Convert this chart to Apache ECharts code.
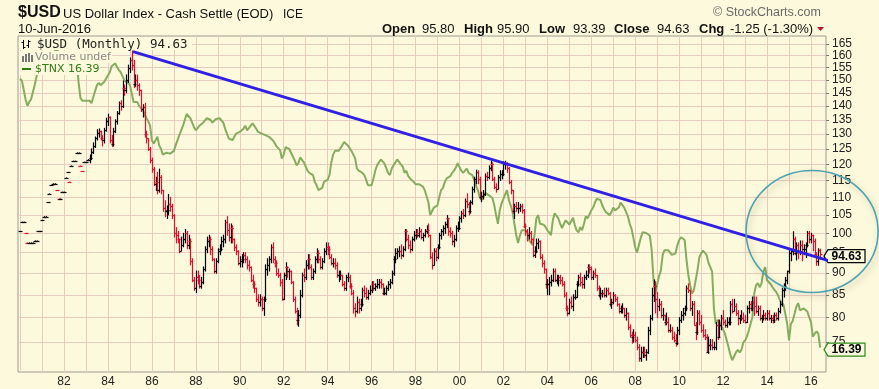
<!DOCTYPE html>
<html><head><meta charset="utf-8">
<script src="https://cdn.jsdelivr.net/npm/echarts@6/dist/echarts.min.js"></script>
<style>html,body{margin:0;padding:0;background:#fdf9dc;}#c{width:879px;height:389px;}</style>
</head><body><div id="c"></div>
<script>
// ---- data: monthly, Jan 1980 .. Jun 2016 ----
const startYear = 1980;
const usdOpen = [
100.5,103,103,100,97.5,97.5,97.5,97.5,98,98,100.5,100.5,
103.5,104.5,104.5,108.5,111,113.5,114,114,112,109.5,109.5,111.5,
111.5,115.8,117.5,114.5,119.5,121,121,123.7,123.7,119.5,117.8,120.7,
120.7,121.5,121.5,122,124,126,128.5,130.5,131,128.5,128,131.5,
134.5,136,128,126.5,131,134.5,137.5,141,140,147,146,150,
155,158,156,148.5,150,148,146,139,139.5,130,128.5,125,
121.5,118.5,114,114.5,112,116,112,107,106,106.5,108,107.5,
105,100,99.5,98.5,95.5,97,98.5,100,97,98,93,88.5,
86.5,89,88.5,87,88,91,96,98,98.5,96,93.5,90.5,
93,95.5,96,98,98.5,103,101,99,101.5,98.5,96.5,95.5,
92.5,93,93.5,94.5,93.5,92,91.5,88.5,87.5,86.5,84,83.5,
84,82,84,91,92,93.5,96.5,93.5,92.5,90,89.5,88,
84,89.5,91.5,90.5,90.5,88,84,81.5,79.5,80.5,85,89.5,
89,92,93.5,91.5,89,90.5,93.5,95,93.5,91.5,93,95.5,
96.5,96,94,92.5,92.5,92,89.5,89.5,89.5,87.5,86.5,89,
89,87,85.5,82,81.5,83.5,82,83,86,85.5,84.5,85.5,
86,87.5,86.5,87,87.5,88,87.5,85.5,85.5,86.5,87.5,88,
90,93.5,95,95.5,95.5,94.5,96,100.5,98.5,97,96,98.5,
99.5,100,99.5,100.5,99,99.5,100.5,101,99.5,94,92,95.5,
94,96.5,99.5,100.5,101.5,102.5,104,100.5,100,98,98.5,101.5,
101.5,104,105.5,105,109,108,106,108.5,112.5,115.5,117.5,115.5,
110,110.5,111,116.5,116,119,120,115.5,113,112.5,116,117,
117,120,120,119,114.5,112,106,107.5,107,107,107.5,106.5,
102,100.5,99.5,100,98.5,94.5,95.5,97.5,98,94,92.5,91,
87.5,87.5,88,88.5,90.5,88.5,88.5,89,88.5,87.5,85,82,
81,83.5,82.5,84.5,84.5,87.5,89,88,87.5,89,89.5,91.5,
91,89,90,89.5,86.5,85,85.5,85.5,85,86,85.5,83,
83.5,85,84,83,81.5,82,82,80.5,81,78,76.5,76,
76.5,75.5,74,72,73,73,72.5,73,77.5,80,85,87,
84,82.5,83,80.5,80.5,79,79,77.5,77.5,76,75.5,74.8,
77.5,79.5,80.5,81,82,86.5,86,82,83,78.5,77,81,
79,77.5,76.5,76,73,74.5,74.5,74,74,78.5,76,78.5,
80,79,78.5,79,79,83,81.5,82.5,81,80,80,80,
79.5,79,82,83,82,83.5,82.5,81.5,82,80,80,80.5,
80,81,80,80,79.5,80.5,80,81.5,83,86,87,88.5,
90.5,95,95.5,98.5,95,97,95.5,97,96,96,97,100,
98.5,99.5,98,94.6,93,95.8];
const usdHigh = [
100.5,103,103,100,97.5,97.5,97.5,97.5,98,98,100.5,100.5,
103.5,104.5,104.5,108.5,111,113.5,114,114,112,109.5,109.5,111.5,
111.5,115.8,117.5,114.5,119.5,121,121,123.7,123.7,119.5,117.8,120.7,
120.7,121.5,123,125,127,129,131.5,131.8,131,129.5,132,135.6,
137,136,129.5,132,135,138,141.5,142,149.6,148,152,156,
159,162,158,152,152,148.5,146,140.5,141,131,128.5,125.5,
122,119,116,117.5,118.5,116.5,112,109,107.5,110.8,110,108,
105,101.5,100.5,98.5,99,100,101,100.5,99.5,98.5,93.5,89,
90.5,90.5,89.5,89,91.5,96.5,99,99.5,99,96.5,93.5,93.5,
96,97,99,99.5,103.5,104.5,102.5,102.5,102,98.5,97,95.5,
94,94.5,95,95,94,93,91.5,89.5,88,86.5,85,85,
84.5,84.5,92,93.5,94,97,97.5,94,93,91,90,88.5,
90,92.5,91.5,91,90.5,88,84.5,82,81.5,86,90,91,
93,94.5,94.5,92,91,94,96,95.5,94,93.5,96,97.5,
97.5,96.5,94.5,93.5,93.5,92.5,90.5,90.5,89.5,88,89.5,90,
89.5,87.5,86,83,84.5,84,84,86.5,87,86.5,86,87,
88,88,87.5,88.5,88.5,88.5,87.5,86.5,87,88,88.5,90.5,
94,96,96,96.5,97,96.5,101,101,99.5,98,99,100.5,
101,101,101.5,101,100,101,102,102.5,99.5,95,96,96,
97,100,101,102,103,104.8,104,101.5,100.5,99.5,102,103,
104.5,106,106.5,109.5,111,108.5,109,113,116,118.2,118,116,
111.5,112,117,117.5,119.5,121,120.5,116,114,116.5,118,118,
120.8,121,120.5,119,115,112,108,108.5,108.5,108,108,106.5,
102.5,101,101.5,100.5,98.5,96.5,98.5,98.5,98,94.5,93,91,
88.5,89,89.5,91,91,89.5,89.5,89.5,89,88,85.5,82.5,
84,84.5,85,86,88,89.5,90,89,89.5,90.5,92,92,
91.5,90.5,91,89.5,87,86.5,86,86.5,86.5,86.5,85.5,84,
85.5,85,84.5,83,82.5,83,82,82,81,78.5,77,77.5,
77,76,74.5,74,74,74,73.5,78,80.5,86.5,88.4,88,
85.5,84,83.5,82,80.5,81,80,78.5,78,77,76.5,78,
80,81.3,82,82.5,87,87.5,86,83.5,83.5,79,81.5,81.5,
80.5,78.5,77.5,76.5,76,75.5,75.5,75,79,79.5,79.5,80.5,
81.5,79.5,80,80,83.5,84,84,83,81.5,80.5,81.5,81,
80.5,82.5,83.5,83.5,84.5,84.5,84.5,82.5,82.5,80.5,81.5,81,
81.5,81.5,80.5,80.5,81,81,82,83.5,86.5,87.5,89,90.5,
95.5,95.5,100.4,99,97.5,97.5,98,98,97,97.5,100.5,100.5,
100,99.5,98.5,95,96,95.9];
const usdLow = [
100.5,103,103,100,97.5,97.5,97.5,97.5,98,98,100.5,100.5,
103.5,104.5,104.5,108.5,111,113.5,114,114,112,109.5,109.5,111.5,
111.5,115.8,117.5,114.5,119.5,121,121,123.7,123.7,119.5,117.8,120.7,
120.7,121.5,120.5,121.5,123.5,125.5,128,129,128,126,127,131,
133,127,125.8,126,130.5,133.5,137,138.5,139.5,144,145,149,
153,154,147,147.5,146,144,138,136,129,127,124.5,120.5,
117.5,113.5,112,111,111.5,111,106,104.5,104,105,106,104,
99,97.5,97.5,95,95.5,96.5,97.5,96,96,92,88,86,
85.5,87.5,86.5,86.5,87.5,90.5,95,96.5,94.5,93,90,90,
92.5,94.5,95.5,96.5,97.5,99.5,98,97.5,97.5,95.5,94.5,92,
91.5,91.5,92.5,92.5,91,90.5,88,86.5,85.5,83.5,82.5,82.5,
81.5,80.5,83.5,89.5,90.5,92.5,92.5,91.5,89.5,89,87,83.8,
84,88.5,89,88.5,87.5,83.5,81,78.5,78.2,80,84.5,88,
88.5,91,91,88.5,88.5,90,92.5,92.5,91,91,92.5,94.5,
94.5,93.5,92,91.5,91,89,88,88.5,87,86,86,88,
86.5,85,81,80.2,81,81,81.5,82.5,84.5,84,84,85,
85.5,86,86,86.5,86.5,86.5,85,85,85,86,86.5,87.5,
89.5,92.5,93.5,94,93.5,94,95.5,98,96,95,95.5,98,
98.5,99,99,98.5,98,99,100,99,93.5,91,92,93,
93.5,96,98.5,99.5,100,101.5,99.5,99,97,96.5,98,100.5,
101,103,104,104.5,107,105,105.5,108,111.5,114,114,109.5,
108.7,109.5,110.5,115,115.5,118,115,112.5,111.5,112.5,115,115.5,
116.5,118.5,117.5,114,111,105.5,104,106,105.5,106,105.5,101.5,
99.5,98,98.5,97.5,94,93.8,95,96,93.5,91.5,90,86.5,
85,85,87,88,88,87.5,87,87.5,87,84.5,81.5,80.4,
80.8,82,81.5,84,84.5,87,87,86.5,86.5,88.5,89,90,
88.5,88.5,89,86,84.5,84,84.5,84.5,84.5,85,82.5,82,
83,83.5,82.5,81,81,81,80,79.5,77.5,76,74.8,75,
75,73.5,71.3,71.3,72,72,71.5,72.8,76.5,79.5,83.5,81,
80,81.5,80,79.5,78.5,78.5,77,77,75.5,75,74.2,74.5,
76.5,79,79.5,80.5,81.5,85.5,81.5,80.5,78.5,75.5,76.5,78.5,
77,76,75.5,73,72.8,73.5,73.5,73.5,73.5,75.5,76,77.5,
78.5,78,78,78.5,78.5,81,81.5,80.5,78.5,78.8,79.5,79,
78.9,79,81,81.5,81.5,80.5,81,80.5,79.5,79,79.5,79.5,
79.5,79.5,79,78.9,79,79.5,79.5,81,82.5,84.5,86,87.5,
90,93,94.5,94.5,93.2,93.5,94.5,93,94.5,93.8,96.5,97.5,
97.5,95.5,94.5,91.9,91.9,93.39];
const usdClose = [
100.5,103,103,100,97.5,97.5,97.5,97.5,98,98,100.5,100.5,
103.5,104.5,104.5,108.5,111,113.5,114,114,112,109.5,109.5,111.5,
111.5,115.8,117.5,114.5,119.5,121,121,123.7,123.7,119.5,117.8,120.7,
120.7,121.5,122,124,126,128.5,130.5,131,128.5,128,131.5,134.5,
136,128,126.5,131,134.5,137.5,141,140,147,146,150,155,
158,156,148.5,150,148,146,139,139.5,130,128.5,125,121.5,
118.5,114,114.5,112,116,112,107,106,106.5,108,107.5,105,
100,99.5,98.5,95.5,97,98.5,100,97,98,93,88.5,86.5,
89,88.5,87,88,91,96,98,98.5,96,93.5,90.5,93,
95.5,96,98,98.5,103,101,99,101.5,98.5,96.5,95.5,92.5,
93,93.5,94.5,93.5,92,91.5,88.5,87.5,86.5,84,83.5,84,
82,84,91,92,93.5,96.5,93.5,92.5,90,89.5,88,84,
89.5,91.5,90.5,90.5,88,84,81.5,79.5,80.5,85,89.5,89,
92,93.5,91.5,89,90.5,93.5,95,93.5,91.5,93,95.5,96.5,
96,94,92.5,92.5,92,89.5,89.5,89.5,87.5,86.5,89,89,
87,85.5,82,81.5,83.5,82,83,86,85.5,84.5,85.5,86,
87.5,86.5,87,87.5,88,87.5,85.5,85.5,86.5,87.5,88,90,
93.5,95,95.5,95.5,94.5,96,100.5,98.5,97,96,98.5,99.5,
100,99.5,100.5,99,99.5,100.5,101,99.5,94,92,95.5,94,
96.5,99.5,100.5,101.5,102.5,104,100.5,100,98,98.5,101.5,101.5,
104,105.5,105,109,108,106,108.5,112.5,115.5,117.5,115.5,110,
110.5,111,116.5,116,119,120,115.5,113,112.5,116,117,117,
120,120,119,114.5,112,106,107.5,107,107,107.5,106.5,102,
100.5,99.5,100,98.5,94.5,95.5,97.5,98,94,92.5,91,87.5,
87.5,88,88.5,90.5,88.5,88.5,89,88.5,87.5,85,82,81,
83.5,82.5,84.5,84.5,87.5,89,88,87.5,89,89.5,91.5,91,
89,90,89.5,86.5,85,85.5,85.5,85,86,85.5,83,83.5,
85,84,83,81.5,82,82,80.5,81,78,76.5,76,76.5,
75.5,74,72,73,73,72.5,73,77.5,80,85,87,84,
82.5,83,80.5,80.5,79,79,77.5,77.5,76,75.5,74.8,77.5,
79.5,80.5,81,82,86.5,86,82,83,78.5,77,81,79,
77.5,76.5,76,73,74.5,74.5,74,74,78.5,76,78.5,80,
79,78.5,79,79,83,81.5,82.5,81,80,80,80,79.5,
79,82,83,82,83.5,82.5,81.5,82,80,80,80.5,80,
81,80,80,79.5,80.5,80,81.5,83,86,87,88.5,90.5,
95,95.5,98.5,95,97,95.5,97,96,96,97,100,98.5,
99.5,98,94.6,93,95.8,94.63];
// $TNX (10-year yield x10), monthly close
const tnx = [
124,122,114,106,101,104,106,112,118,126,135,145,
130,132,134,140,138,138,145,152,156,150,135,140,
144,140,138,139,138,146,146,140,120,107,105,104,
105,104,105,103,108,113,118,120,118,119,121,124,
125,130,136,138,139,135,132,130,126,122,121,120,
118,118,104,104,104,101,100,98,95,92,90,87,
78,76,78,80,75,73,70,70.5,71,71,70.5,70,
72,75,78,81,84,87,91,95,95,92,89,86,
84,83,87,88,89,90,92,92,91,89,90,91.5,
92,92,93,89,85,82,79,79,78,80,82,82.5,
83,84,85,87,84,85,87,88.5,88.5,85,83,82.5,
82,81.5,81,81,80,79,78,76.5,74.5,73.5,72.4,68,
70,74,74,73,71,69,67,64.6,65.6,68.5,68,66,
64,62,61,60.5,60,57,55.5,53.6,53,54.5,57,57,
58,60,66,70,72,71,72,72,75,77,78,75,
74,72,70,68,63,62,62,61,60,58,55.6,54.8,
55.6,58.5,62,64.6,66,67.5,67,65.5,64.6,61,60,63,
64.6,66,67.5,67,65,64,61,62,59.5,58.5,58,57,
56,55.6,56,55.5,55,53.6,53,49,44.4,45,47,47,
47.8,51,53.6,54.5,57,58.5,58.5,59.5,61,62,63.5,65.6,
65.6,62,61,62,63,61,60.5,60,58,55.6,53.6,51,
49.7,50.5,52.5,52.5,51.6,51,50.5,47.8,44.4,41.6,46,48.5,
50.2,52,53.6,49.7,47.8,45.4,41.6,38.2,36,38,39.6,40,
39.6,39,36.8,36.8,35.4,38.2,43.3,44.4,41.6,41.6,41.3,40.6,
39.6,39,38.2,42.7,45,45,43.3,41.6,40.3,40.6,42.7,42,
41.3,41.6,43.5,41.2,39.6,39,40.6,39.6,41.6,44,43.3,42.7,
46,47,48.8,50.2,50,49.7,47.8,46.4,45.4,45,44.4,45.4,
47,46,46,47,48.8,49.2,47,45.4,44,41.6,40,37.4,
34.8,33.5,35.4,37.4,39,39,38.8,38.5,38,34.1,27.2,24.6,
26.4,28,29.3,32.9,34.1,34.6,34.1,33.5,32.9,32.9,33.3,35.4,
36.8,37.6,37.6,36.8,31.7,28.3,26.2,24.6,25.2,27.2,29.3,32.3,
33.3,34,33.5,32.9,31,30,29,21.9,19.6,20.2,19.8,19.3,
19.3,18.2,17.3,16.4,15.5,14.9,14.7,15.8,16.1,15.8,16.1,17,
17.3,17.8,18.6,19.6,20.6,24.6,26.2,26.6,25.8,26.6,29,30,
27.2,26.8,26.4,25.8,25.3,24.9,24.3,23.4,23.4,22.6,21.1,19.6,
17.3,19.6,20,21.1,22.3,22.9,21.7,21.5,22,21.7,21.5,20.6,
19.9,17.8,18.2,18.5,18.2,16.39];
// trendline anchors [decimal year, value]
const trendStart = [1985.14, 161.7];
const trendEnd = [2018.82, 89.8];
// axis ticks
const priceTicks = [75,80,85,90,95,100,105,110,115,120,125,130,135,140,145,150,155,160,165];
const yearGrid = [1980,1981,1982,1983,1984,1985,1986,1987,1988,1989,1990,1991,1992,1993,1994,1995,1996,1997,1998,1999,2000,2001,2002,2003,2004,2005,2006,2007,2008,2009,2010,2011,2012,2013,2014,2015,2016];
const yearLabels = [1982,1984,1986,1988,1990,1992,1994,1996,1998,2000,2002,2004,2006,2008,2010,2012,2014,2016];
const lastClose = 94.63, lastTnx = 16.39;

// ---- build ----
const BG = '#fdf9dc', GRIDC = '#e6cdbf', RED = '#e0102e';
const monthT = i => startYear + i / 12;
const ohlc = usdClose.map((c, i) => [monthT(i), usdOpen[i], usdHigh[i], usdLow[i], c, (i === 0 || c >= usdClose[i - 1]) ? 1 : 0]);
const tnxData = tnx.map((v, i) => [monthT(i), v]);

const chart = echarts.init(document.getElementById('c'), null, {renderer: 'canvas'});
const font = 'Liberation Sans, Arial, sans-serif';
chart.setOption({
  animation: false,
  backgroundColor: BG,
  grid: {left: 18, top: 36, width: 808, height: 336, show: true, borderColor: '#a09a90', borderWidth: 1},
  xAxis: {
    type: 'value', min: 1979.906, max: 2016.683,
    axisLine: {show: false},
    axisTick: {show: false, customValues: yearGrid},
    splitLine: {show: true, lineStyle: {color: GRIDC, width: 1}},
    axisLabel: {customValues: yearLabels, formatter: v => String(v % 100).padStart(2, '0'),
      fontSize: 12, fontFamily: font, color: '#222', margin: 4, showMinLabel: true, showMaxLabel: true}
  },
  yAxis: [{
    type: 'log', logBase: 10, min: 69.3, max: 168.5, position: 'right',
    axisLine: {show: false},
    axisTick: {show: true, length: 3, customValues: priceTicks, lineStyle: {color: '#777'}},
    splitLine: {show: true, lineStyle: {color: GRIDC, width: 1}},
    axisLabel: {show: false}
  }, {
    type: 'log', logBase: 10, min: 13.64, max: 170.8, show: false,
    splitLine: {show: false}
  }],
  series: [{
    type: 'line', name: 'TNX', yAxisIndex: 1, data: tnxData, symbol: 'none', z: 1,
    lineStyle: {color: '#86ad5f', width: 2}
  }, {
    type: 'custom', name: 'USD', yAxisIndex: 0, z: 2, clip: true,
    data: ohlc,
    encode: {x: 0, y: [1, 2, 3, 4]},
    renderItem: (params, api) => {
      const t = api.value(0);
      const pO = api.coord([t, api.value(1)]), pH = api.coord([t, api.value(2)]);
      const pL = api.coord([t, api.value(3)]), pC = api.coord([t, api.value(4)]);
      const color = api.value(5) ? '#000' : RED;
      const x = Math.round(pH[0]) + 0.5;
      const st = {stroke: color, lineWidth: 1.2};
      return {type: 'group', children: [
        {type: 'line', shape: {x1: x, y1: pH[1] - 0.5, x2: x, y2: pL[1] + 0.5}, style: st},
        {type: 'line', shape: {x1: x - 2, y1: Math.round(pO[1]) + 0.5, x2: x, y2: Math.round(pO[1]) + 0.5}, style: st},
        {type: 'line', shape: {x1: x, y1: Math.round(pC[1]) + 0.5, x2: x + 2, y2: Math.round(pC[1]) + 0.5}, style: st}
      ]};
    }
  }, {
    type: 'line', name: 'trend', yAxisIndex: 0, data: [trendStart, trendEnd], clip: false, z: 50,
    symbol: 'none', lineStyle: {color: '#2f20e3', width: 3}
  }]
});

// ---- annotations (positions from the chart's own scales) ----
const pUsd = chart.convertToPixel({xAxisIndex: 0, yAxisIndex: 0}, [2016.46, lastClose]);
const pTnx = chart.convertToPixel({xAxisIndex: 0, yAxisIndex: 1}, [2016.46, lastTnx]);
const pCirc = chart.convertToPixel({xAxisIndex: 0, yAxisIndex: 0}, [2016.05, 100.5]);

function valueTag(yc, text, stroke) {
  const xl = 828, xr = 865, h = 6.5;
  return [
    {type: 'polygon', z: 10, shape: {points: [[xl - 4, yc], [xl, yc - h], [xr, yc - h], [xr, yc + h], [xl, yc + h]]},
      style: {fill: BG, stroke: stroke, lineWidth: 1.2}},
    {type: 'text', z: 11, x: (xl + xr) / 2, y: yc, style: {text: text, font: 'bold 12px ' + font, fill: '#000', align: 'center', verticalAlign: 'middle'}}
  ];
}
function txt(x, y, text, f, fill, extra) {
  return Object.assign({type: 'text', z: 100, x: x, y: y, style: Object.assign({text: text, font: f, fill: fill || '#111', align: 'left', verticalAlign: 'middle'}, extra || {})});
}
// right-hand price labels, placed through the y axis scale
const yLabels = priceTicks.map(v => {
  const p = chart.convertToPixel({yAxisIndex: 0}, v);
  return {type: 'text', z: 5, x: 832, y: p, style: {text: String(v), font: '12px ' + font, fill: '#222', align: 'left', verticalAlign: 'middle'}};
});
const mono = 'DejaVu Sans Mono, monospace', sans = 'DejaVu Sans, sans-serif';
const g = [
  // header
  txt(18, 13, '$USD', 'bold 16px ' + font, '#111'),
  txt(63, 14, 'US Dollar Index - Cash Settle (EOD)', '13px ' + font, '#111'),
  txt(283, 15, 'ICE', '12px ' + font, '#111'),
  txt(18, 29, '10-Jun-2016', '13px ' + font, '#111'),
  txt(713, 13, '\u00A9 StockCharts.com', '12.5px ' + font, '#6a6a6a'),
  txt(382, 29, 'Open', 'bold 13px ' + font), txt(422, 29, '95.80', '13px ' + font),
  txt(464, 29, 'High', 'bold 13px ' + font), txt(497, 29, '95.90', '13px ' + font),
  txt(539, 29, 'Low', 'bold 13px ' + font), txt(573, 29, '93.39', '13px ' + font),
  txt(614, 29, 'Close', 'bold 13px ' + font), txt(657, 29, '94.63', '13px ' + font),
  txt(699, 29, 'Chg', 'bold 13px ' + font), txt(730, 29, '-1.25 (-1.30%)', '13px ' + font),
  {type: 'polygon', z: 100, shape: {points: [[817, 27], [824, 27], [820.5, 31]]}, style: {fill: '#c0102a'}},
  // legend backgrounds
  {type: 'rect', z: 90, shape: {x: 19, y: 37, width: 173, height: 13}, style: {fill: BG}},
  {type: 'rect', z: 90, shape: {x: 19, y: 51, width: 93, height: 12}, style: {fill: BG}},
  {type: 'rect', z: 90, shape: {x: 19, y: 63, width: 81, height: 12}, style: {fill: BG}},
  // legend icons
  {type: 'line', z: 100, shape: {x1: 23.5, y1: 40, x2: 23.5, y2: 49}, style: {stroke: '#000', lineWidth: 1}},
  {type: 'line', z: 100, shape: {x1: 21.5, y1: 42.5, x2: 23.5, y2: 42.5}, style: {stroke: '#000', lineWidth: 1}},
  {type: 'line', z: 100, shape: {x1: 23.5, y1: 47.5, x2: 25.5, y2: 47.5}, style: {stroke: '#000', lineWidth: 1}},
  {type: 'line', z: 100, shape: {x1: 28.5, y1: 40, x2: 28.5, y2: 48}, style: {stroke: '#000', lineWidth: 1}},
  {type: 'line', z: 100, shape: {x1: 26.5, y1: 45.5, x2: 28.5, y2: 45.5}, style: {stroke: '#000', lineWidth: 1}},
  {type: 'line', z: 100, shape: {x1: 28.5, y1: 41.5, x2: 30.5, y2: 41.5}, style: {stroke: '#000', lineWidth: 1}},
  txt(37, 45, '$USD (Monthly) 94.63', '12.5px ' + mono, '#222'),
  {type: 'rect', z: 100, shape: {x: 22, y: 56, width: 2, height: 6}, style: {fill: '#777'}},
  {type: 'rect', z: 100, shape: {x: 25, y: 54, width: 2, height: 8}, style: {fill: '#777'}},
  {type: 'rect', z: 100, shape: {x: 28, y: 53, width: 2, height: 9}, style: {fill: '#777'}},
  {type: 'rect', z: 100, shape: {x: 31, y: 55, width: 2, height: 7}, style: {fill: '#777'}},
  txt(35, 57.5, 'Volume undef', '11px ' + sans, '#888'),
  {type: 'line', z: 100, shape: {x1: 22, y1: 69, x2: 31, y2: 69}, style: {stroke: '#2f7d14', lineWidth: 2}},
  txt(35, 69.5, '$TNX 16.39', '11px ' + sans, '#2f7d14'),
  // circle annotation
  {type: 'ellipse', z: 95, shape: {cx: pCirc[0], cy: pCirc[1], rx: 66, ry: 61},
    style: {fill: 'none', stroke: '#4ea3b3', lineWidth: 1.6, shadowBlur: 6, shadowColor: 'rgba(90,80,60,0.35)', shadowOffsetX: 2, shadowOffsetY: 3}}
].concat(yLabels, valueTag(pUsd[1] + 2, '94.63', '#000'), valueTag(pTnx[1] + 2, '16.39', '#2d8a1a'));
chart.setOption({graphic: g});
</script>
</body></html>
